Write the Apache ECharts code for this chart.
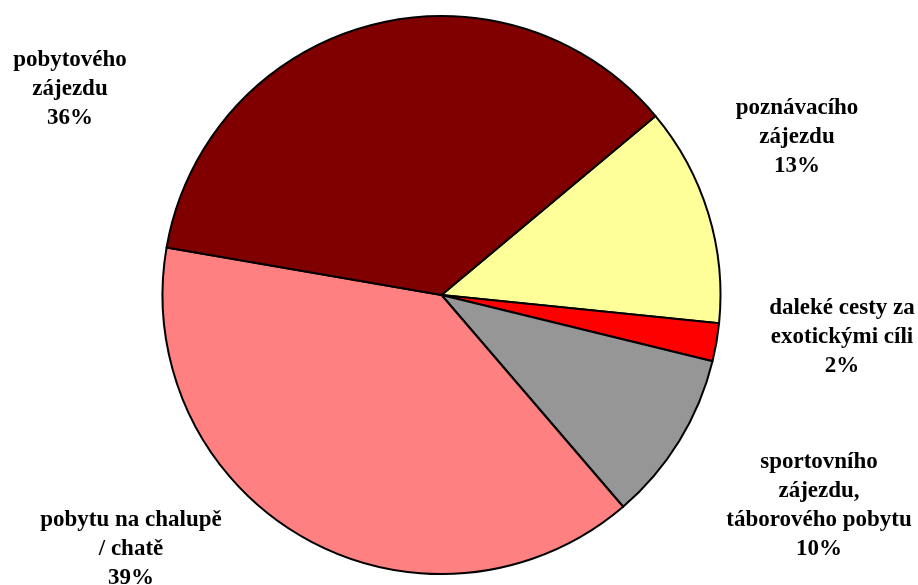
<!DOCTYPE html>
<html>
<head>
<meta charset="utf-8">
<style>
  html, body { margin: 0; padding: 0; background: #fff; }
  #chart { width: 918px; height: 585px; }
</style>
<script src="https://cdn.jsdelivr.net/npm/echarts@6/dist/echarts.min.js"></script>
</head>
<body>
<div id="chart"></div>
<script>
// slices in drawing order (clockwise from the top-right boundary)
const categories = [
  'poznávacího\nzájezdu',
  'daleké cesty za\nexotickými cíli',
  'sportovního\nzájezdu,\ntáborového pobytu',
  'pobytu na chalupě\n/ chatě',
  'pobytového\nzájezdu'
];
const shares = [12.7, 2.2, 9.9, 39.0, 36.2];
const sliceColors = ['#FFFF99', '#FF0000', '#969696', '#FF8080', '#800000'];
// label block centres, px
const labelSpots = [[797, 137], [842, 337], [819, 506], [131, 549], [70, 89]];

const chart = echarts.init(document.getElementById('chart'));
chart.setOption({
  animation: false,
  backgroundColor: '#fff',
  series: [{
    type: 'pie',
    center: [441.5, 295],
    radius: 279,
    startAngle: 39.9,
    clockwise: true,
    avoidLabelOverlap: false,
    data: categories.map((name, i) => ({
      name: name,
      value: shares[i],
      itemStyle: { color: sliceColors[i] }
    })),
    itemStyle: { borderColor: '#000', borderWidth: 2 },
    label: {
      show: true,
      position: 'outside',
      formatter: p => p.name + '\n' + Math.round(p.percent) + '%',
      fontFamily: '"Liberation Serif", "Times New Roman", serif',
      fontWeight: 'bold',
      fontSize: 23,
      lineHeight: 29,
      color: '#000',
      align: 'center'
    },
    labelLine: { show: false },
    labelLayout: p => ({
      x: labelSpots[p.dataIndex][0],
      y: labelSpots[p.dataIndex][1],
      align: 'center',
      verticalAlign: 'middle'
    }),
    emphasis: { disabled: true }
  }]
});
</script>
</body>
</html>
